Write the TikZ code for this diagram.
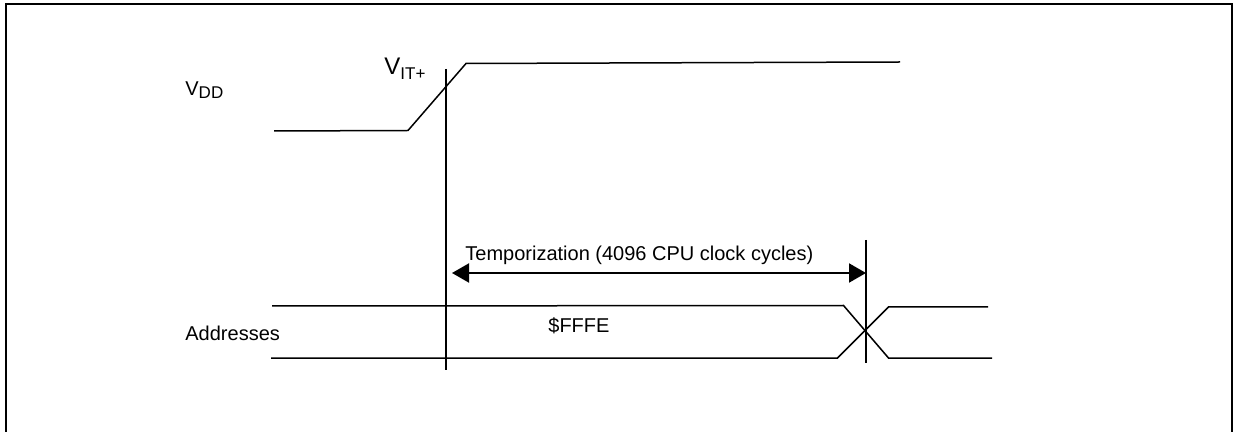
\documentclass[tikz,border=0pt]{standalone}
\usepackage{fontspec}
\usetikzlibrary{arrows.meta}
\setmainfont{Liberation Sans}
\tikzset{
  wave/.style={line width=0.75pt},
  marker/.style={line width=1pt},
  label/.style={inner sep=0pt,anchor=base west,font=\fontsize{10}{12}\selectfont},
}
\newcommand{\sublabel}[2]{\raisebox{#1}{\fontsize{8.5}{10}\selectfont #2}}
\begin{document}
\begin{tikzpicture}[x=0.5pt,y=-0.5pt,line join=miter]
\useasboundingbox (0,0) rectangle (1235,432);
\coordinate(f1) at (5.5,432);
\coordinate(f2) at (5.5,4);
\coordinate(f3) at (1232,4);
\coordinate(f4) at (1232,432);
\draw[line width=1pt] (f1) -- (f2) -- (f3) -- (f4);

\node[label](vdd) at (185,96) {V\sublabel{-1.5pt}{DD}};
\node[label,font=\fontsize{12}{14}\selectfont](vit) at (384,75) {V\sublabel{-2.5pt}{IT+}};
\node[label](temp) at (465,261) {Temporization (4096 CPU clock cycles)};
\node[label](fffe) at (548,333) {\$FFFE};
\node[label](addr) at (185,341) {Addresses};

\coordinate(v1) at (274,131);
\coordinate(v2) at (408,130.5);
\coordinate(v3) at (466,63.5);
\coordinate(v4) at (900,62);
\draw[wave] (v1) -- (v2) -- (v3) -- (v4);

\coordinate(m1t) at (446,69);
\coordinate(m1b) at (446,370);
\coordinate(m2t) at (866,240);
\coordinate(m2b) at (866,363);
\draw[marker] (m1t) -- (m1b);
\draw[marker] (m2t) -- (m2b);

\coordinate(a1) at (452,273);
\coordinate(a2) at (866,273);
\draw[marker,{Triangle[length=8.5pt,width=9.5pt]}-{Triangle[length=8.5pt,width=9.5pt]}] (a1) -- (a2);

\coordinate(t1) at (272,306);
\coordinate(t2) at (843.5,305.5);
\coordinate(t3) at (888.5,358);
\coordinate(t4) at (992,358);
\coordinate(b1) at (271,358);
\coordinate(b2) at (837.5,358);
\coordinate(b3) at (888.5,307);
\coordinate(b4) at (988,307);
\draw[wave] (t1) -- (t2) -- (t3) -- (t4);
\draw[wave] (b1) -- (b2) -- (b3) -- (b4);
\end{tikzpicture}
\end{document}
